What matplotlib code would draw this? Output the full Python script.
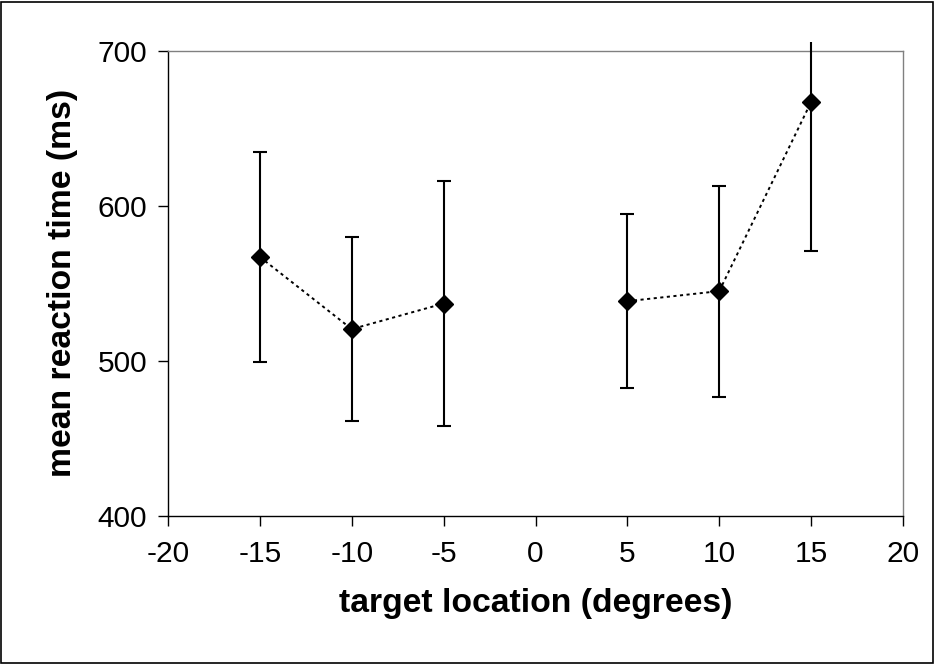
import numpy as np
import matplotlib
matplotlib.use("Agg")
import matplotlib.pyplot as plt
from matplotlib.patches import Rectangle

plt.rcParams['font.family'] = ['Liberation Sans', 'DejaVu Sans']

# data
locations = [-15, -10, -5, 0, 5, 10, 15]
mean_rt = [567, 520.5, 537, np.nan, 538.5, 545, 667]
err_rt = [68, 59.5, 79, np.nan, 56, 68, 96]
xticks = [-20, -15, -10, -5, 0, 5, 10, 15, 20]
yticks = [400, 500, 600, 700]

fig = plt.figure(figsize=(9.35, 6.64), dpi=100)
ax = fig.add_axes([0.1797, 0.2229, 0.7861, 0.7007])

x = np.array(locations, dtype=float)
y = np.array(mean_rt, dtype=float)
e = np.array(err_rt, dtype=float)

ax.plot(x, y, linestyle=(0, (1.6, 1.8)), color='black', linewidth=1.4, zorder=2)

mask = ~np.isnan(y)
eb = ax.errorbar(x[mask], y[mask], yerr=e[mask], fmt='none', ecolor='black',
                 elinewidth=1.5, capsize=5, capthick=1.5, zorder=3)
clip_rect = Rectangle((0, 0), 1, 1.019, transform=ax.transAxes,
                      facecolor='none', edgecolor='none')
ax.add_patch(clip_rect)
for art in list(eb.lines[1]) + list(eb.lines[2]):
    art.set_clip_path(clip_rect)

ax.plot(x[mask], y[mask], linestyle='none', marker='D', markersize=9.5,
        color='black', zorder=4, clip_on=False)

ax.set_xlim(-20, 20)
ax.set_ylim(400, 700)
ax.set_xticks(xticks)
ax.set_yticks(yticks)
ax.set_xticklabels([str(v) for v in xticks])
ax.set_yticklabels([str(v) for v in yticks])
ax.tick_params(axis='both', direction='out', length=7, width=1, labelsize=21.5,
               color='black')
ax.tick_params(axis='x', pad=10)
ax.tick_params(axis='y', pad=8)

ax.spines['left'].set_color('black')
ax.spines['bottom'].set_color('black')
ax.spines['top'].set_color('#808080')
ax.spines['right'].set_color('#808080')
for s in ax.spines.values():
    s.set_linewidth(1.0)

ax.set_xlabel('target location (degrees)', fontsize=24.3, fontweight='bold',
              labelpad=15)
ax.set_ylabel('mean reaction time (ms)', fontsize=24.3, fontweight='bold',
              labelpad=14)

fig.patches.append(Rectangle((0.001, 0.0015), 0.997, 0.996, transform=fig.transFigure,
                             fill=False, edgecolor='black', linewidth=1.2))

fig.savefig('out.png', dpi=100)
